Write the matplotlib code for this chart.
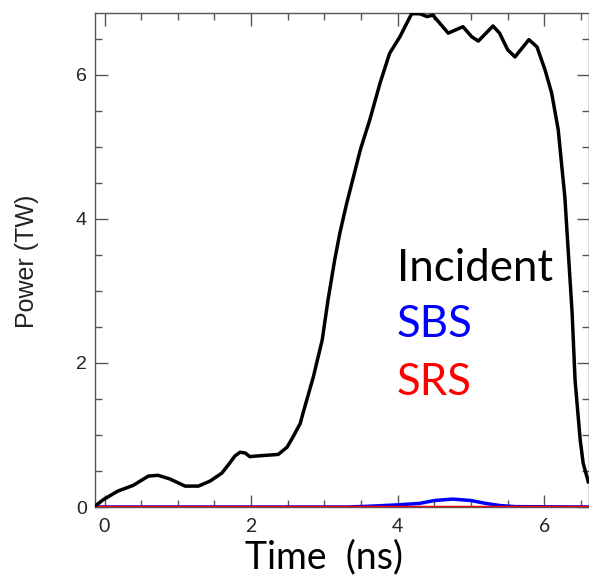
import matplotlib
matplotlib.use("Agg")
import matplotlib.pyplot as plt
from matplotlib.ticker import MultipleLocator

# dane
czas_inc = [-0.12, -0.02, 0.18, 0.39, 0.6, 0.73, 0.89, 1.1, 1.28, 1.44, 1.6, 1.7, 1.78, 1.85,
            1.92, 1.98, 2.1, 2.37, 2.49, 2.57, 2.67, 2.71, 2.85, 2.97, 3.05, 3.14, 3.21, 3.3,
            3.49, 3.62, 3.76, 3.89, 4.03, 4.19, 4.3, 4.4, 4.48, 4.69, 4.89, 5.01, 5.1,
            5.3, 5.39, 5.5, 5.6, 5.79, 5.9, 6.01, 6.1, 6.19, 6.24, 6.28, 6.38, 6.42,
            6.49, 6.53, 6.6]
moc_inc = [0.02, 0.1, 0.22, 0.3, 0.43, 0.44, 0.39, 0.29, 0.29, 0.36, 0.47, 0.6, 0.71, 0.76,
           0.75, 0.7, 0.71, 0.73, 0.83, 0.97, 1.16, 1.31, 1.81, 2.32, 2.88, 3.43, 3.8, 4.2,
           4.96, 5.38, 5.89, 6.3, 6.53, 6.85, 6.85, 6.81, 6.83, 6.58, 6.67, 6.53, 6.47,
           6.68, 6.58, 6.35, 6.25, 6.49, 6.39, 6.07, 5.75, 5.24, 4.72, 4.31, 2.69, 1.76,
           0.93, 0.61, 0.35]

czas_sbs = [-0.13, 3.3, 3.6, 4.0, 4.3, 4.5, 4.75, 5.0, 5.2, 5.4, 5.6, 6.6]
moc_sbs = [0.0, 0.0, 0.01, 0.03, 0.05, 0.09, 0.11, 0.09, 0.05, 0.02, 0.005, 0.0]

czas_srs = [-0.13, 6.6]
moc_srs = [0.0, 0.0]

fig = plt.figure(figsize=(5.89, 5.77), dpi=100)
ax = fig.add_axes([95 / 589, 70 / 577, 494 / 589, 494 / 577])

ax.plot(czas_sbs, moc_sbs, color='#0000ff', linewidth=2.5, zorder=3)
ax.plot(czas_srs, moc_srs, color='#ff0000', linewidth=2.5, zorder=4)
ax.plot(czas_inc, moc_inc, color='black', linewidth=2.5, zorder=5)

ax.set_xlim(-0.13, 6.61)
ax.set_ylim(0, 6.86)

ax.xaxis.set_major_locator(MultipleLocator(2))
ax.xaxis.set_minor_locator(MultipleLocator(0.5))
ax.yaxis.set_major_locator(MultipleLocator(2))
ax.yaxis.set_minor_locator(MultipleLocator(0.5))
ax.tick_params(which='both', direction='in', top=True, right=True, color='#555555', width=1)
ax.tick_params(which='major', length=9)
ax.tick_params(which='minor', length=5)
ax.tick_params(axis='y', labelsize=14, pad=6, labelcolor='#222222')
ax.tick_params(axis='x', labelsize=14, pad=8, labelcolor='#222222')
for lab in ax.get_yticklabels():
    lab.set_fontfamily('Liberation Sans')
for lab in ax.get_xticklabels():
    lab.set_fontfamily('Lato')
for sp in ax.spines.values():
    sp.set_color('#555555')
    sp.set_linewidth(1)

# podpisy serii
ax.text(3.99, 3.14, "Incident", color='black', fontsize=31.5, family='Lato', va='baseline')
ax.text(3.99, 2.36, "SBS", color='#0000ff', fontsize=31.5, family='Lato', va='baseline')
ax.text(3.99, 1.56, "SRS", color='#ff0000', fontsize=31.5, family='Lato', va='baseline')

fig.text(324 / 589, 20 / 577, "Time  (ns)", fontsize=27, family='Lato', ha='center', va='center')
fig.text(27 / 589, 316 / 577, "Power (TW)", fontsize=18, family='Liberation Sans',
         rotation=90, ha='center', va='center', color='#222222')

fig.savefig("out.png", dpi=100)
